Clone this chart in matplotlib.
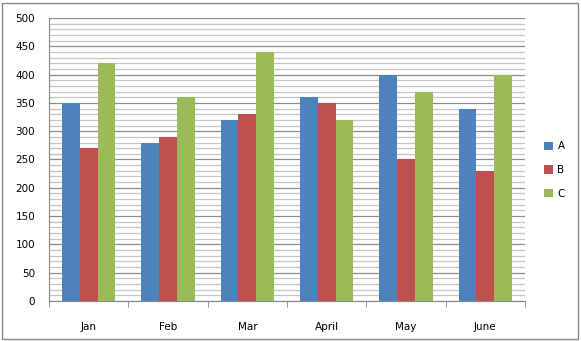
import matplotlib.pyplot as plt
import numpy as np
from matplotlib.patches import Rectangle

months = ['Jan', 'Feb', 'Mar', 'April', 'May', 'June']
a_vals = [350, 280, 320, 360, 400, 340]
b_vals = [270, 290, 330, 350, 250, 230]
c_vals = [420, 360, 440, 320, 370, 400]
series_names = ['A', 'B', 'C']
colors = ['#4F81BD', '#C0504D', '#9BBB59']

fig = plt.figure(figsize=(5.81, 3.41), dpi=100)
fig.patches.append(Rectangle((2 / 581, 2 / 341), 576 / 581, 336 / 341, transform=fig.transFigure,
                             fill=False, edgecolor='#868686', linewidth=1))
ax = fig.add_axes([49 / 581, 40 / 341, 476 / 581, 283 / 341])

x = np.arange(len(months))
w = 0.225
for i, vals in enumerate([a_vals, b_vals, c_vals]):
    ax.bar(x + (i - 1) * w, vals, width=w, color=colors[i], label=series_names[i], zorder=3)

ax.set_xlim(-0.5, len(months) - 0.5)
ax.set_ylim(0, 500)
ax.set_yticks(np.arange(0, 501, 50))
ax.set_yticks(np.arange(0, 501, 10), minor=True)
ax.grid(axis='y', which='major', color='#8c8c8c', linewidth=0.9, zorder=0)
ax.grid(axis='y', which='minor', color='#c4c4c4', linewidth=0.9, zorder=0)

ax.set_xticks(x)
ax.set_xticklabels(months)
ax.set_xticks(np.arange(-0.5, len(months), 1), minor=True)
ax.tick_params(axis='x', which='major', length=0, pad=15, labelsize=7.5)
ax.tick_params(axis='x', which='minor', length=4, color='#868686', direction='out')
ax.tick_params(axis='y', which='both', length=0, pad=10, labelsize=7.5)

for s in ['top', 'right']:
    ax.spines[s].set_visible(False)
for s in ['left', 'bottom']:
    ax.spines[s].set_color('#868686')

ax.legend(loc='center left', bbox_to_anchor=(1.02, 0.463), frameon=False, fontsize=7.5,
          handlelength=0.9, handleheight=0.9, labelspacing=1.3, handletextpad=0.4)

fig.savefig('out.png', dpi=100)
